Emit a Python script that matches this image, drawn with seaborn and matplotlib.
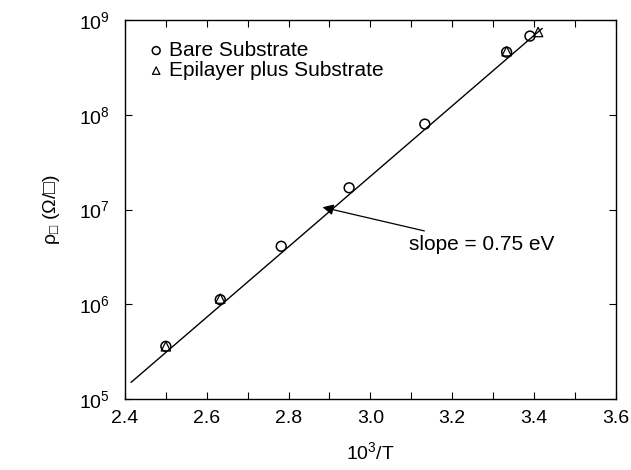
import pandas as pd
import matplotlib.pyplot as plt
import seaborn as sns
from matplotlib.ticker import MultipleLocator

# data
bare_x = [2.50, 2.633, 2.782, 2.948, 3.133, 3.333, 3.39]
bare_y = [3.6e5, 1.12e6, 4.1e6, 1.7e7, 8.0e7, 4.6e8, 6.8e8]
epi_x = [2.50, 2.633, 3.333, 3.41]
epi_y = [3.6e5, 1.15e6, 4.7e8, 7.5e8]
fit_x = [2.415, 3.42]
fit_y = [1.5e5, 8.2e8]

ytick_vals = [1e5, 1e6, 1e7, 1e8, 1e9]
ytick_labels = ["10$^{5}$", "10$^{6}$", "10$^{7}$", "10$^{8}$", "10$^{9}$"]
xtick_vals = [2.4, 2.6, 2.8, 3.0, 3.2, 3.4, 3.6]
xtick_labels = ["2.4", "2.6", "2.8", "3.0", "3.2", "3.4", "3.6"]

sns.set_theme(style="ticks")
plt.rcParams['font.family'] = ['Liberation Sans', 'DejaVu Sans']
plt.rcParams['mathtext.fontset'] = 'custom'
plt.rcParams['mathtext.rm'] = 'Liberation Sans'
plt.rcParams['mathtext.it'] = 'Liberation Sans'
for k in ['text.color', 'axes.labelcolor', 'xtick.color', 'ytick.color']:
    plt.rcParams[k] = 'black'

bare = pd.DataFrame({'x': bare_x, 'y': bare_y})
epi = pd.DataFrame({'x': epi_x, 'y': epi_y})
fit = pd.DataFrame({'x': fit_x, 'y': fit_y})

fig = plt.figure(figsize=(6.31, 4.7), dpi=100)
ax = fig.add_axes([0.198, 0.151, 0.778, 0.806])

sns.lineplot(data=fit, x='x', y='y', color='black', linewidth=1.0, ax=ax)
sns.scatterplot(data=bare, x='x', y='y', marker='o', s=50, facecolor='none',
                edgecolor='black', linewidth=1.1, label='Bare Substrate', ax=ax)
sns.scatterplot(data=epi, x='x', y='y', marker='^', s=45, facecolor='none',
                edgecolor='black', linewidth=0.9, label='Epilayer plus Substrate', ax=ax)

ax.set_yscale('log')
ax.set_xlim(2.4, 3.6)
ax.set_ylim(1e5, 1e9)
ax.set_xticks(xtick_vals, xtick_labels)
ax.xaxis.set_minor_locator(MultipleLocator(0.1))
ax.set_yticks(ytick_vals, ytick_labels)
ax.yaxis.set_minor_locator(plt.NullLocator())
ax.tick_params(which='both', direction='in', top=True, right=True,
               length=5, width=0.8, labelsize=14)
ax.tick_params(axis='x', pad=8)
ax.tick_params(axis='y', pad=11)
for sp in ax.spines.values():
    sp.set_linewidth(1.0)
    sp.set_color('black')

ax.set_xlabel('10$^{3}$/T', fontsize=14, labelpad=10)
ax.set_ylabel('ρ$_{□}$ (Ω/□)', fontsize=14, labelpad=12)

ax.annotate('slope = 0.75 eV', xy=(2.883, 1.06e7), xytext=(3.095, 4.3e6),
            fontsize=15, va='center',
            arrowprops=dict(arrowstyle='-|>', color='black', lw=0.9,
                            mutation_scale=16, shrinkA=2, shrinkB=0))

ax.legend(loc='upper left', frameon=False, fontsize=15, handletextpad=0.1,
          borderaxespad=0.5, borderpad=0.5, labelspacing=0.05, handlelength=1.0,
          markerscale=0.8)

plt.savefig('out.png', dpi=100)
